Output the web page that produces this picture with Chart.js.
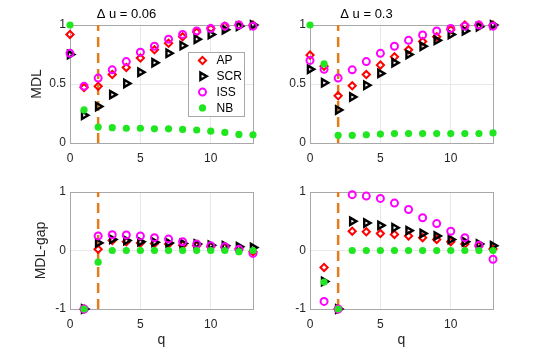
<!DOCTYPE html>
<html>
<head>
<meta charset="utf-8">
<script src="https://cdn.jsdelivr.net/npm/chart.js@4.4.1/dist/chart.umd.min.js"></script>
<style>
  html, body { margin: 0; padding: 0; background: #fff; }
  #wrap { position: relative; width: 545px; height: 350px; overflow: hidden; }
  .cell { position: absolute; }
</style>
</head>
<body>
<div id="wrap">
  <div class="cell" style="left:0;top:0"><canvas id="c-mdl-006" width="265" height="175"></canvas></div>
  <div class="cell" style="left:240px;top:0"><canvas id="c-mdl-03" width="265" height="175"></canvas></div>
  <div class="cell" style="left:0;top:175px"><canvas id="c-gap-006" width="265" height="175"></canvas></div>
  <div class="cell" style="left:240px;top:175px"><canvas id="c-gap-03" width="265" height="175"></canvas></div>
</div>
<script>
// ---- Daten ----------------------------------------------------------------
const qValues = [0, 1, 2, 3, 4, 5, 6, 7, 8, 9, 10, 11, 12, 13];
const xTicks = [0, 5, 10];
const mdlTicks = [0, 0.5, 1];
const gapTicks = [-1, 0, 1];
const cutQ = 2;
const seriesNames = ['AP', 'SCR', 'ISS', 'NB'];

// MDL, Δu = 0.06
const ap006 = [0.92, 0.47, 0.48, 0.58, 0.64, 0.72, 0.79, 0.845, 0.90, 0.94, 0.97, 0.99, 1.0, 1.0];
const scr006 = [0.75, 0.235, 0.31, 0.41, 0.505, 0.60, 0.68, 0.76, 0.825, 0.88, 0.92, 0.96, 0.99, 1.0];
const iss006 = [0.76, 0.48, 0.55, 0.62, 0.69, 0.77, 0.82, 0.88, 0.92, 0.95, 0.97, 0.99, 1.0, 0.99];
const nb006 = [1.0, 0.28, 0.135, 0.13, 0.125, 0.125, 0.12, 0.12, 0.115, 0.11, 0.10, 0.09, 0.073, 0.07];

// MDL, Δu = 0.3
const ap03 = [0.745, 0.65, 0.40, 0.485, 0.58, 0.66, 0.73, 0.79, 0.86, 0.90, 0.96, 1.0, 1.0, 1.0];
const scr03 = [0.625, 0.51, 0.28, 0.39, 0.49, 0.59, 0.68, 0.75, 0.82, 0.87, 0.92, 0.95, 0.985, 1.0];
const iss03 = [0.70, 0.625, 0.55, 0.62, 0.69, 0.76, 0.82, 0.87, 0.915, 0.95, 0.97, 0.99, 1.0, 0.99];
const nb03 = [1.0, 0.67, 0.065, 0.065, 0.07, 0.076, 0.08, 0.08, 0.08, 0.08, 0.08, 0.08, 0.08, 0.085];

// MDL-gap, Δu = 0.06 (kein Wert bei q = 0)
const gapAp006 = [null, -1, 0.02, 0.17, 0.15, 0.13, 0.12, 0.11, 0.09, 0.08, 0.065, 0.05, 0.025, -0.02];
const gapScr006 = [null, -1, 0.13, 0.19, 0.17, 0.15, 0.14, 0.13, 0.12, 0.11, 0.09, 0.08, 0.065, 0.05];
const gapIss006 = [null, -1, 0.25, 0.27, 0.265, 0.25, 0.22, 0.195, 0.15, 0.11, 0.08, 0.065, 0.02, -0.05];
const gapNb006 = [null, -1, -0.2, 0, 0, 0, 0, 0, 0, 0, 0, 0, -0.02, 0];

// MDL-gap, Δu = 0.3
const gapAp03 = [null, -0.29, -1, 0.33, 0.32, 0.29, 0.275, 0.25, 0.22, 0.19, 0.15, 0.11, 0.075, 0.025];
const gapScr03 = [null, -0.53, -1, 0.50, 0.47, 0.43, 0.39, 0.34, 0.29, 0.25, 0.19, 0.15, 0.11, 0.08];
const gapIss03 = [null, -0.87, -1, 0.955, 0.93, 0.89, 0.81, 0.70, 0.56, 0.46, 0.33, 0.22, 0.09, -0.15];
const gapNb03 = [null, -0.54, -1, 0, 0, 0, 0, 0, 0, 0, 0, 0, 0, 0];

// ---- Stil ------------------------------------------------------------------
const FONT = '"Liberation Sans", Arial, sans-serif';
const TXT = '#262626';
const GRID = '#e8e8e8';
const BOX = '#a8a8a8';
const CUT = '#e27d1c';

const markers = [
  { pointStyle: 'rectRot', pointRotation: 0, pointRadius: 3.6, pointBorderWidth: 2, pointBorderColor: '#ff0000', pointBackgroundColor: 'rgba(0,0,0,0)', order: 4 },
  { pointStyle: 'triangle', pointRotation: 90, pointRadius: 4.2, pointBorderWidth: 2.4, pointBorderColor: '#000000', pointBackgroundColor: 'rgba(0,0,0,0)', order: 3 },
  { pointStyle: 'circle', pointRotation: 0, pointRadius: 3.5, pointBorderWidth: 2, pointBorderColor: '#ff00ff', pointBackgroundColor: 'rgba(0,0,0,0)', order: 2 },
  { pointStyle: 'circle', pointRotation: 0, pointRadius: 3.6, pointBorderWidth: 0, pointBorderColor: '#1fe61f', pointBackgroundColor: '#1fe61f', order: 1 },
];

function toPoints(ys) {
  const pts = [];
  ys.forEach((y, i) => { if (y != null) pts.push({ x: qValues[i], y }); });
  return pts;
}

// Rahmen rundum (MATLAB-Box).
const boxPlugin = {
  id: 'box',
  beforeDatasetsDraw(chart) {
    const a = chart.chartArea;
    const ctx = chart.ctx;
    ctx.save();
    ctx.strokeStyle = BOX;
    ctx.lineWidth = 1;
    ctx.strokeRect(Math.round(a.left) + 0.5, Math.round(a.top) + 0.5, Math.round(a.right - a.left), Math.round(a.bottom - a.top));
    ctx.restore();
  },
};

// Legende innerhalb der Achsen (nur erstes Panel).
const insideLegend = {
  id: 'insideLegend',
  afterDatasetsDraw(chart) {
    const a = chart.chartArea;
    const ctx = chart.ctx;
    const w = 56, h = 64;
    const left = a.right - 9 - w;
    const top = a.top + 27;
    ctx.save();
    ctx.fillStyle = '#fff';
    ctx.fillRect(left, top, w, h);
    ctx.strokeStyle = BOX;
    ctx.lineWidth = 1;
    ctx.strokeRect(Math.round(left) + 0.5, Math.round(top) + 0.5, w, h);
    seriesNames.forEach((name, i) => {
      const m = markers[i];
      const y = top + 8.5 + i * 15.8;
      const x = left + 14.5;
      ctx.fillStyle = m.pointBackgroundColor;
      ctx.strokeStyle = m.pointBorderColor;
      ctx.lineWidth = m.pointBorderWidth;
      Chart.helpers.drawPoint(ctx, {
        pointStyle: m.pointStyle, rotation: m.pointRotation,
        radius: m.pointRadius, borderWidth: m.pointBorderWidth,
      }, x, y);
      ctx.fillStyle = '#000';
      ctx.font = '12px ' + FONT;
      ctx.textBaseline = 'middle';
      ctx.textAlign = 'left';
      ctx.fillText(name, left + 28.5, y + 0.5);
    });
    ctx.restore();
  },
};

function makePanel(id, cfg) {
  const datasets = [{
    type: 'line',
    data: [{ x: cutQ, y: cfg.yMin }, { x: cutQ, y: cfg.yMax }],
    borderColor: CUT, borderWidth: 2.5, borderDash: [10, 6],
    pointRadius: 0, order: 10, clip: false,
  }];
  cfg.series.forEach((ys, i) => {
    datasets.push(Object.assign({
      label: seriesNames[i],
      data: toPoints(ys),
      showLine: false,
      pointHoverRadius: markers[i].pointRadius,
      clip: false,
    }, markers[i]));
  });

  return new Chart(document.getElementById(id), {
    type: 'scatter',
    data: { datasets },
    options: {
      responsive: false,
      animation: false,
      events: [],
      layout: { padding: { left: 0, right: 12, top: cfg.padTop, bottom: 0 } },
      plugins: {
        legend: { display: false },
        tooltip: { enabled: false },
        title: {
          display: !!cfg.title,
          text: cfg.title,
          color: '#000',
          font: { family: FONT, size: 13, weight: 'normal' },
          padding: { top: 6.9, bottom: 2.5 },
        },
      },
      scales: {
        x: {
          type: 'linear', min: 0, max: 13,
          afterBuildTicks: (s) => { s.ticks = xTicks.map((v) => ({ value: v })); },
          afterFit: (s) => { s.height = cfg.xHeight; },
          ticks: { color: TXT, font: { family: FONT, size: 12 }, padding: 8, maxRotation: 0, callback: (v) => String(v) },
          grid: { color: GRID, drawTicks: false },
          border: { display: false },
          title: {
            display: !!cfg.xTitle, text: cfg.xTitle, color: TXT,
            font: { family: FONT, size: 14 }, padding: { top: 0, bottom: 1.6 },
          },
        },
        y: {
          type: 'linear', min: cfg.yMin, max: cfg.yMax,
          afterBuildTicks: (s) => { s.ticks = cfg.yTicks.map((v) => ({ value: v })); },
          afterFit: (s) => { s.width = 70; },
          ticks: { color: TXT, font: { family: FONT, size: 12 }, padding: 4, callback: (v) => String(v) },
          grid: { color: GRID, drawTicks: false },
          border: { display: false },
          title: {
            display: !!cfg.yTitle, text: cfg.yTitle, color: TXT,
            font: { family: FONT, size: 14 }, padding: { top: cfg.yTitlePad, bottom: 0 },
          },
        },
      },
    },
    plugins: cfg.legend ? [boxPlugin, insideLegend] : [boxPlugin],
  });
}

makePanel('c-mdl-006', {
  series: [ap006, scr006, iss006, nb006], yMin: 0, yMax: 1, yTicks: mdlTicks,
  title: 'Δ u = 0.06', yTitle: 'MDL', yTitlePad: 28.6, xTitle: '', padTop: 0, xHeight: 32, legend: true,
});
makePanel('c-mdl-03', {
  series: [ap03, scr03, iss03, nb03], yMin: 0, yMax: 1, yTicks: mdlTicks,
  title: 'Δ u = 0.3', yTitle: '', yTitlePad: 0, xTitle: '', padTop: 0, xHeight: 32, legend: false,
});
makePanel('c-gap-006', {
  series: [gapAp006, gapScr006, gapIss006, gapNb006], yMin: -1, yMax: 1, yTicks: gapTicks,
  title: '', yTitle: 'MDL-gap', yTitlePad: 32.6, xTitle: 'q', padTop: 17, xHeight: 41, legend: false,
});
makePanel('c-gap-03', {
  series: [gapAp03, gapScr03, gapIss03, gapNb03], yMin: -1, yMax: 1, yTicks: gapTicks,
  title: '', yTitle: '', yTitlePad: 0, xTitle: 'q', padTop: 17, xHeight: 41, legend: false,
});
</script>
</body>
</html>
